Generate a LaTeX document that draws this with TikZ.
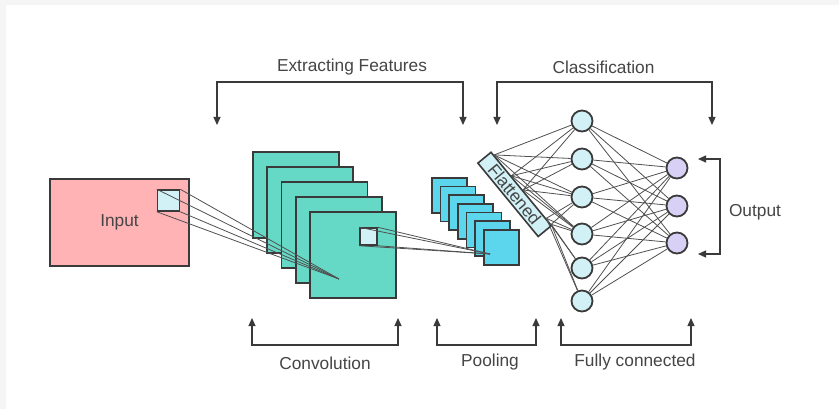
\documentclass[tikz,border=0pt]{standalone}
\usepackage{fontspec}
\setmainfont{Liberation Sans}
\usepackage{xcolor}
\usepackage{tikz}
\usetikzlibrary{positioning, calc, arrows.meta}
\definecolor{edgegray}{HTML}{3A3A3A}
\definecolor{wiregray}{HTML}{505050}
\definecolor{textgray}{HTML}{454545}
\definecolor{inputpink}{HTML}{FFB3B5}
\definecolor{kernelcyan}{HTML}{D2F1F6}
\definecolor{convteal}{HTML}{66D9C6}
\definecolor{poolblue}{HTML}{5BD6EC}
\definecolor{outpurple}{HTML}{D8D0F5}
\tikzstyle{every neuron}=[circle, draw=edgegray, line width=1.8pt, minimum size=21pt, inner sep=0pt]
\tikzstyle{hidden neuron}=[fill=kernelcyan]
\tikzstyle{output neuron}=[fill=outpurple]
\tikzstyle{fmap}=[draw=edgegray, line width=1.8pt, inner sep=0pt, anchor=north west]
\tikzstyle{kernel}=[draw=edgegray, line width=1.5pt, inner sep=0pt, fill=kernelcyan]
\tikzstyle{wire}=[draw=wiregray, line width=0.8pt]
\tikzstyle{bracket}=[{Triangle[length=8pt,width=7pt]}-{Triangle[length=8pt,width=7pt]}, draw=edgegray, line width=1.2pt]
\tikzstyle{captext}=[text=textgray, font=\fontsize{17.3}{20}\selectfont]

\begin{document}
\begin{tikzpicture}[x=1pt, y=-1pt]
    \useasboundingbox (0,0) rectangle (839,409);
    \fill[black!4] (0,0) rectangle (839,409);
    \fill[white] (6,5) rectangle (839,409);

    \node [fmap, fill=inputpink, anchor=center, minimum width=139pt, minimum height=87pt, captext] (input) at (119.5,222.5) {Input};
    \node [kernel, minimum width=22pt, minimum height=21pt] (kernel-in) at (168.5,200.5) {};

    \foreach \i in {0,...,4}
    \node [fmap, fill=convteal, minimum width=86pt, minimum height=86pt] (conv-\i) at (252+14.25*\i,151+15*\i) {};
    \node [kernel, minimum size=17pt] (kernel-conv) at (368.5,236.5) {};

    \foreach \i in {0,...,6}
    \node [fmap, fill=poolblue, minimum size=35pt] (pool-\i) at (431+8.67*\i,177+8.67*\i) {};

    \coordinate (fconv) at (339,279);
    \coordinate (fpool) at (490,254);
    \foreach \c in {north west, north east, south west, south east}
    \draw [wire] (kernel-in.\c) -- (fconv);
    \foreach \c in {north west, north east, south west, south east}
    \draw [wire] (kernel-conv.\c) -- (fpool);

    \node [draw=edgegray, line width=1.6pt, fill=kernelcyan, rotate=-50.6, minimum width=95pt, minimum height=17pt, inner sep=0pt, captext] (flat) at (514.6,194.4) {Flattened};

    \foreach \y [count=\i] in {121,159,197,234,268,301}
    \node [every neuron, hidden neuron] (hidden-\i) at (582,\y) {};

    \foreach \y [count=\i] in {168,206,243}
    \node [every neuron, output neuron] (output-\i) at (677,\y) {};

    \foreach \t [count=\s] in {0.05,0.33,0.52,0.9,0.98}
    \coordinate (src-\s) at ($(flat.north west)!\t!(flat.north east)$);

    \foreach \s in {1,2,3}
    \foreach \h in {1,...,4}
    \draw [wire] (src-\s) -- (hidden-\h);

    \foreach \s in {4,5}
    \foreach \h in {3,...,6}
    \draw [wire] (src-\s) -- (hidden-\h);

    \foreach \i in {1,...,6}
    \foreach \j in {1,...,3}
    \draw [wire] (hidden-\i) -- (output-\j);

    % brackets
    \node [captext] (lab-extract) at (352,67) {Extracting Features};
    \node [captext] (lab-class) at (603.5,67) {Classification};
    \node [captext] (lab-conv) at (325,363) {Convolution};
    \node [captext] (lab-pool) at (490,362) {Pooling};
    \node [captext] (lab-fc) at (635,362) {Fully connected};
    \node [captext] (lab-out) at (755,212) {Output};

    \coordinate (extract-a) at (217,125);
    \coordinate (extract-b) at (463,125);
    \coordinate (class-a) at (497,125);
    \coordinate (class-b) at (712,125);
    \coordinate (conv-a) at (252,318);
    \coordinate (conv-b) at (398,318);
    \coordinate (pool-a) at (437,318);
    \coordinate (pool-b) at (536,318);
    \coordinate (fc-a) at (561,318);
    \coordinate (fc-b) at (691,318);
    \coordinate (out-a) at (698,159);
    \coordinate (out-b) at (698,254);

    \draw [bracket] (extract-a) -- ++(0,-43) -| (extract-b);
    \draw [bracket] (class-a) -- ++(0,-43) -| (class-b);
    \foreach \b in {conv, pool, fc}
    \draw [bracket] (\b-a) -- ++(0,27) -| (\b-b);
    \draw [bracket] (out-a) -- ++(22,0) |- (out-b);

\end{tikzpicture}
\end{document}
